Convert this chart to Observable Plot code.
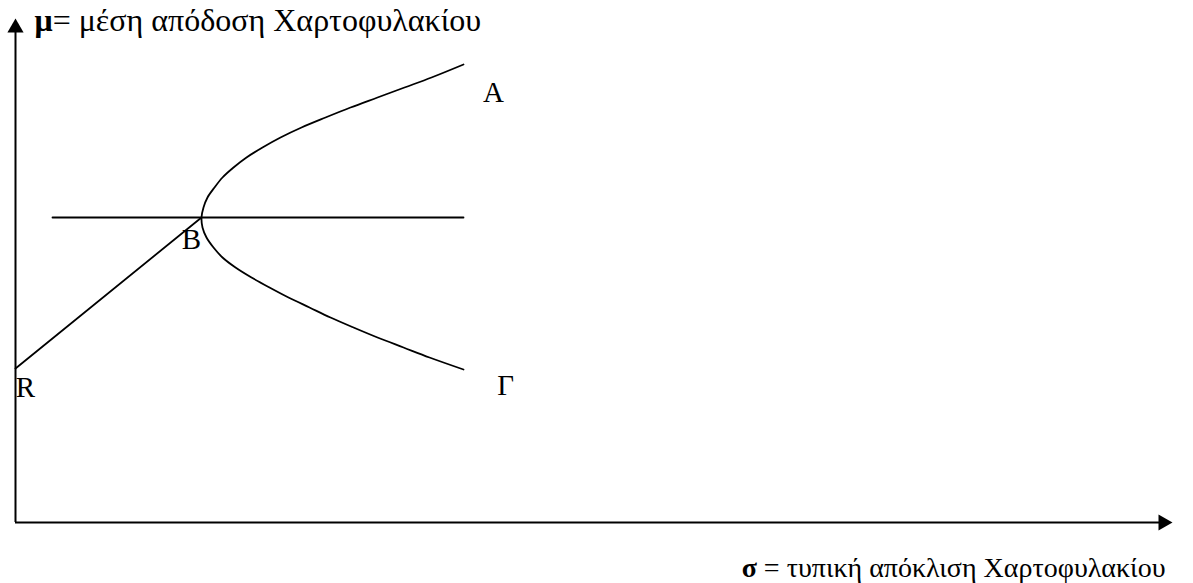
<!DOCTYPE html>
<html>
<head>
<meta charset="utf-8">
<script src="https://cdn.jsdelivr.net/npm/d3@7"></script>
<script src="https://cdn.jsdelivr.net/npm/@observablehq/plot@0.6"></script>
<style>
  html, body { margin: 0; padding: 0; background: #fff; }
  #chart svg { display: block; }
</style>
</head>
<body>
<div id="chart"></div>
<script>
// ---- data (σ = standard deviation, μ = mean return) ----
// efficient-frontier curve, from end A through vertex B to end Γ
const frontierSigma = [4.48, 4.16, 3.89, 3.62, 3.35, 3.10, 2.86, 2.65, 2.47, 2.31, 2.18, 2.07, 1.99, 1.92, 1.88, 1.86,
                       1.87, 1.91, 1.98, 2.07, 2.20, 2.36, 2.54, 2.73, 2.94, 3.15, 3.38, 3.62, 3.88, 4.14, 4.48];
const frontierMu    = [9.16, 8.90, 8.70, 8.50, 8.30, 8.10, 7.90, 7.70, 7.50, 7.30, 7.10, 6.90, 6.70, 6.50, 6.30, 6.10,
                       5.90, 5.70, 5.50, 5.30, 5.10, 4.90, 4.70, 4.50, 4.30, 4.10, 3.90, 3.70, 3.50, 3.30, 3.06];
const cmlSigma = [0, 1.86];          // R -> B
const cmlMu    = [3.08, 6.10];
const levelSigma = [0.37, 4.48];     // horizontal line through B
const levelMu    = [6.10, 6.10];
const pointNames = ["A", "B", "R", "Γ"];
const pointSigma = [4.48, 1.86, 0, 4.48];
const pointMu    = [9.16, 6.10, 3.08, 3.06];
const yTitle = ["μ", "= μέση απόδοση Χαρτοφυλακίου"];
const xTitle = ["σ", " = τυπική απόκλιση Χαρτοφυλακίου"];
const xMax = 11.57, yMax = 10.08;

// ---- layout ----
const W = 1193, H = 583;
const FONT = "'Liberation Serif', 'Times New Roman', serif";
const FS = 29;
const labelOffsets = { "A": [30, 28], "B": [-10, 22], "R": [10, 19], "Γ": [42, 16] };

const frontier = frontierSigma.map((s, i) => ({ s, m: frontierMu[i] }));
const cml = cmlSigma.map((s, i) => ({ s, m: cmlMu[i] }));
const level = levelSigma.map((s, i) => ({ s, m: levelMu[i] }));
const points = pointNames.map((n, i) => ({ n, s: pointSigma[i], m: pointMu[i] }));

const triR = 6;
const tipOff = 2 * Math.sqrt(Math.PI * triR * triR / (3 * Math.sqrt(3)));

const labelMarks = points.map(p => Plot.text([p], {
  x: "s", y: "m", text: "n",
  dx: labelOffsets[p.n][0], dy: labelOffsets[p.n][1],
  textAnchor: "middle", lineAnchor: "middle",
  fontSize: FS, fill: "black"
}));

const chart = Plot.plot({
  width: W, height: H,
  marginLeft: 15, marginRight: 21, marginTop: 18, marginBottom: 61,
  x: { domain: [0, xMax], axis: null },
  y: { domain: [0, yMax], axis: null },
  style: { fontFamily: FONT, fontSize: FS + "px", background: "white", color: "black", overflow: "visible" },
  marks: [
    // axes
    Plot.ruleX([0], { y1: 0, y2: yMax - 0.15, stroke: "black", strokeWidth: 2 }),
    Plot.ruleY([0], { x1: 0, x2: xMax - 0.1, stroke: "black", strokeWidth: 2 }),
    Plot.dot([{ s: 0, m: yMax }], { x: "s", y: "m", symbol: "triangle", r: triR, fill: "black", stroke: null, dy: tipOff }),
    Plot.dot([{ s: xMax, m: 0 }], { x: "s", y: "m", symbol: "triangle", r: triR, fill: "black", stroke: null, rotate: 90, dx: -tipOff }),
    // curves
    Plot.line(level, { x: "s", y: "m", stroke: "black", strokeWidth: 1.8 }),
    Plot.line(cml, { x: "s", y: "m", stroke: "black", strokeWidth: 1.8 }),
    Plot.line(frontier, { x: "s", y: "m", stroke: "black", strokeWidth: 1.8, curve: "catmull-rom" }),
    // point labels
    ...labelMarks,
    // axis titles
    Plot.text([yTitle.join("")], { frameAnchor: "top-left", dx: 19, dy: 2, textAnchor: "start", lineAnchor: "middle", fontSize: 32, fill: "black" }),
    Plot.text([xTitle.join("")], { frameAnchor: "bottom-right", dx: -7, dy: 46, textAnchor: "end", lineAnchor: "middle", fontSize: 28, fill: "black" })
  ]
});

// make the leading Greek symbol of each axis title bold
d3.select(chart).selectAll("text").each(function () {
  const t = this.textContent;
  for (const parts of [yTitle, xTitle]) {
    if (t === parts.join("")) {
      this.textContent = "";
      const sel = d3.select(this);
      sel.append("tspan").attr("font-weight", "bold").text(parts[0]);
      sel.append("tspan").text(parts[1]);
    }
  }
});

document.getElementById("chart").appendChild(chart);
</script>
</body>
</html>
